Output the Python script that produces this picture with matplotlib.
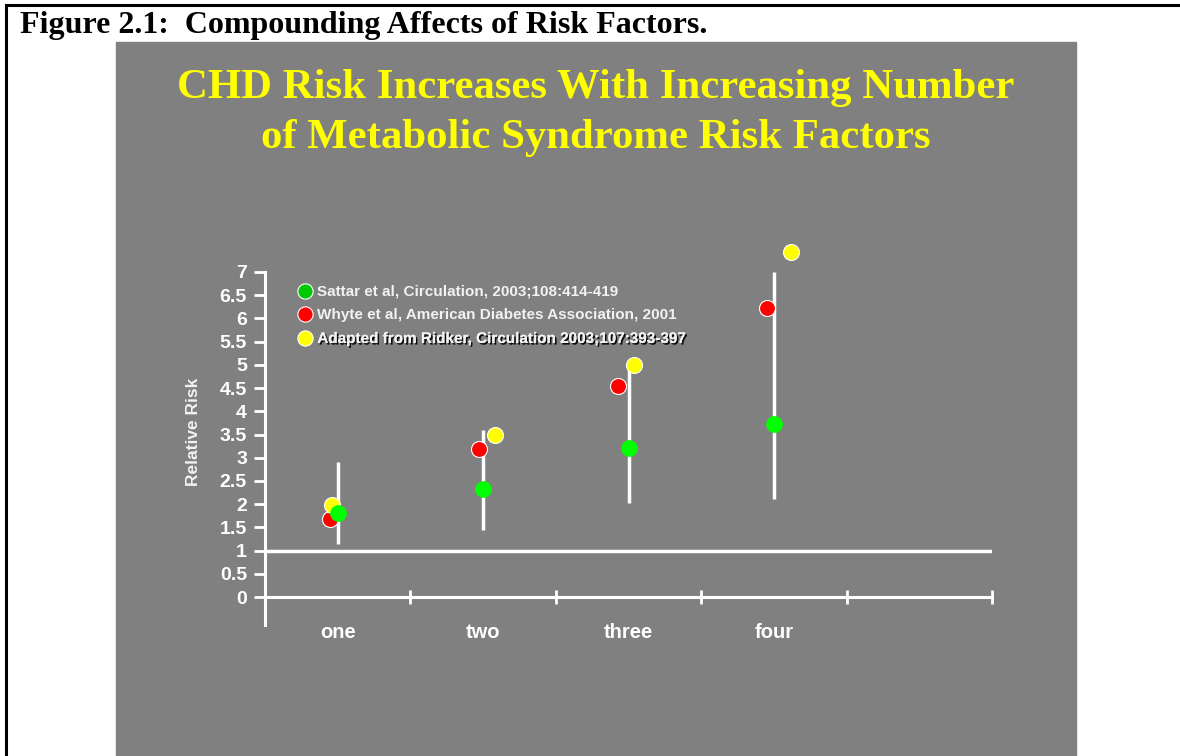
import matplotlib
matplotlib.use("Agg")
import matplotlib.pyplot as plt
import matplotlib.patheffects as pe
from matplotlib.patches import Rectangle
from matplotlib.lines import Line2D

# ---- data ----
categories = ["one", "two", "three", "four"]
sattar = [1.82, 2.33, 3.22, 3.72]          # green
whyte = [1.67, 3.19, 4.55, 6.22]           # red
ridker = [1.98, 3.50, 5.00, 7.42]          # yellow
ci_low = [1.15, 1.45, 2.02, 2.12]
ci_high = [2.90, 3.60, 4.95, 7.00]
# horizontal offsets of each series within a category (category units)
sattar_dx = [0.0, 0.0, 0.0, 0.0]
whyte_dx = [-0.05, -0.03, -0.07, -0.05]
ridker_dx = [-0.04, 0.08, 0.04, 0.12]
yticks = [0, 0.5, 1, 1.5, 2, 2.5, 3, 3.5, 4, 4.5, 5, 5.5, 6, 6.5, 7]
legend_labels = ["Sattar et al, Circulation, 2003;108:414-419",
                 "Whyte et al, American Diabetes Association, 2001",
                 "Adapted from Ridker, Circulation 2003;107:393-397"]

W, H = 1180, 756
fig = plt.figure(figsize=(W / 100, H / 100), dpi=100)
fig.patch.set_facecolor("white")

def fx(px):
    return px / W

def fy(py):
    return 1 - py / H

# outer black frame
fig.add_artist(plt.Line2D([fx(6), fx(6)], [fy(5), 0], color="black", lw=2.2,
                          transform=fig.transFigure))
fig.add_artist(plt.Line2D([fx(6), 1], [fy(5), fy(5)], color="black", lw=2.2,
                          transform=fig.transFigure))
# gray panel
fig.add_artist(Rectangle((fx(116), 0), fx(1076) - fx(116), fy(42), color="#808080",
                         transform=fig.transFigure, zorder=0))

fig.text(fx(20), fy(26), "Figure 2.1:  Compounding Affects of Risk Factors.",
         fontfamily="Liberation Serif", fontweight="bold", fontsize=23,
         ha="left", va="center", color="black")

fig.text(fx(596), fy(88), "CHD Risk Increases With Increasing Number",
         fontfamily="Liberation Serif", fontweight="bold", fontsize=30.8,
         ha="center", va="center", color="#FFFF00")
fig.text(fx(596), fy(138), "of Metabolic Syndrome Risk Factors",
         fontfamily="Liberation Serif", fontweight="bold", fontsize=30.8,
         ha="center", va="center", color="#FFFF00")

# axes: x 0..5 -> px 265..992 ; y -0.6..7 -> px 625..272
ax = fig.add_axes([fx(265), fy(624.9), fx(992) - fx(265), fy(272) - fy(624.9)])
ax.set_facecolor("none")
ax.set_xlim(0, 5)
ax.set_ylim(-0.6, 7)

for s in ["top", "right"]:
    ax.spines[s].set_visible(False)
ax.spines["left"].set_color("white")
ax.spines["left"].set_linewidth(2.2)
ax.spines["bottom"].set_color("white")
ax.spines["bottom"].set_linewidth(2.2)
ax.spines["bottom"].set_position(("data", 0))

ax.set_yticks(yticks)
ax.set_yticklabels([("%g" % v) for v in yticks])
ax.tick_params(axis="y", direction="out", length=8, width=2, color="white",
               labelcolor="white", labelsize=14, pad=5)
for lab in ax.get_yticklabels():
    lab.set_fontweight("bold")
    lab.set_fontfamily("Liberation Sans")

cat_x = [i + 0.5 for i in range(len(categories))]
ax.set_xticks([1, 2, 3, 4, 5])
ax.set_xticklabels([])
ax.tick_params(axis="x", which="major", direction="inout", length=10, width=2,
               color="white")
ax.set_xticks(cat_x, minor=True)
ax.set_xticklabels(categories, minor=True)
ax.tick_params(axis="x", which="minor", length=0, labelcolor="white",
               labelsize=14.5, pad=19)
for lab in ax.get_xticklabels(minor=True):
    lab.set_fontweight("bold")
    lab.set_fontfamily("Liberation Sans")

ax.set_ylabel("Relative Risk", color="#F2F2F2", fontsize=12.5, fontweight="bold",
              fontfamily="Liberation Sans")
ax.yaxis.set_label_coords((201 - 265) / (992 - 265), (624.9 - 432) / (624.9 - 272))

# reference line at RR = 1
ax.axhline(1, color="white", lw=2.5, zorder=2)

# confidence ranges
ax.vlines(cat_x, ci_low, ci_high, color="white", lw=2.5, zorder=3)

def pts(base, dx):
    return [b + d for b, d in zip(base, dx)]

ms = 11.5
ax.plot(pts(cat_x, whyte_dx), whyte, "o", color="#FF0000", mec="white", mew=0.8,
        ms=ms, ls="none", zorder=4, clip_on=False)
ax.plot(pts(cat_x, ridker_dx), ridker, "o", color="#FFFF00", mec="white", mew=0.8,
        ms=ms, ls="none", zorder=4, clip_on=False)
ax.plot(pts(cat_x, sattar_dx), sattar, "o", color="#00FF00", mec="#00FF00", mew=0.5,
        ms=ms, ls="none", zorder=5, clip_on=False)

handles = [Line2D([], [], marker="o", ls="none", ms=11, color="#00C800", mec="white", mew=0.8),
           Line2D([], [], marker="o", ls="none", ms=11, color="#FF0000", mec="white", mew=0.8),
           Line2D([], [], marker="o", ls="none", ms=11, color="#FFFF00", mec="white", mew=0.8)]
leg = ax.legend(handles, legend_labels, loc="upper left",
                bbox_to_anchor=(fx(299), fy(285)), bbox_transform=fig.transFigure,
                frameon=False, handlelength=0.75, handletextpad=0.45, labelspacing=0.62,
                borderaxespad=0, borderpad=0,
                prop={"family": "Liberation Sans", "weight": "bold", "size": 11})
for t in leg.get_texts():
    t.set_color("#F2F2F2")
leg.get_texts()[2].set_path_effects([pe.withSimplePatchShadow(offset=(1.2, -1.2),
                                                              shadow_rgbFace="black",
                                                              alpha=0.9),
                                     pe.Normal()])

fig.savefig("out.png", dpi=100)
